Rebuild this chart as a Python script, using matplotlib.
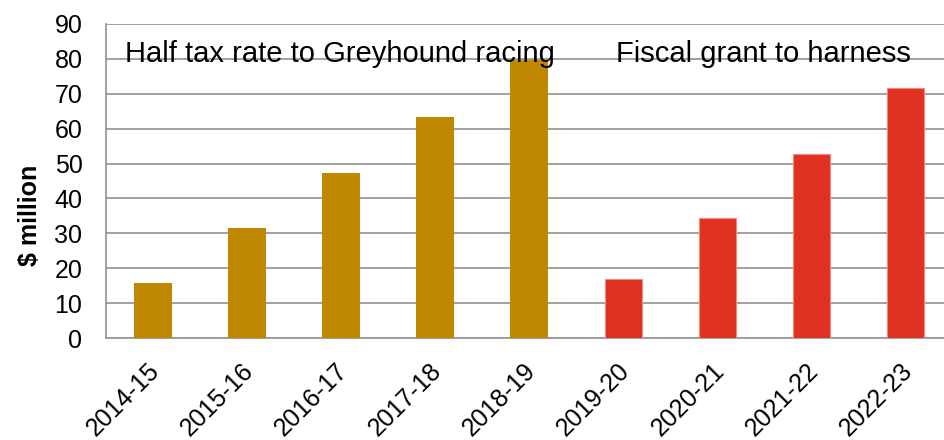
import matplotlib
matplotlib.use('Agg')
from matplotlib import pyplot as plt
from matplotlib.transforms import ScaledTranslation

years = ['2014-15', '2015-16', '2016-17', '2017-18', '2018-19',
         '2019-20', '2020-21', '2021-22', '2022-23']
greyhound_values = [15.8, 31.5, 47.3, 63.3, 79.7]
harness_values = [16.9, 34.4, 52.7, 71.6]
group_labels = ['Half tax rate to Greyhound racing', 'Fiscal grant to harness']

GOLD = '#C08800'
RED = '#E03220'


def main():
    plt.rcParams['font.family'] = ['Liberation Sans', 'DejaVu Sans']

    fig = plt.figure(figsize=(9.45, 4.4), dpi=100)
    ax = fig.add_axes([0.1122, 0.2318, 0.8878, 0.7137])

    n_grey = len(greyhound_values)
    ax.bar(range(n_grey), greyhound_values, width=0.4, color=GOLD, zorder=3)
    ax.bar(range(n_grey, n_grey + len(harness_values)), harness_values, width=0.4,
           color=RED, edgecolor='#F08a80', linewidth=0.8, zorder=3)

    # GRID AND AXES. #
    ax.set_ylim(0, 90)
    ax.set_xlim(-0.5, 8.42)
    ax.set_yticks(range(0, 91, 10))
    ax.yaxis.grid(True, color='#9a9a9a', linewidth=1.3, zorder=0)
    ax.set_axisbelow(True)
    for side in ('top', 'right'):
        ax.spines[side].set_visible(False)
    for side in ('left', 'bottom'):
        ax.spines[side].set_color('#9a9a9a')
        ax.spines[side].set_linewidth(1.3)
    ax.tick_params(axis='y', length=0, pad=17, labelsize=18)
    ax.tick_params(axis='x', length=0, pad=15, labelsize=18)

    ax.set_xticks(range(len(years)))
    ax.set_xticklabels(years, rotation=45, ha='right', va='top', rotation_mode='anchor')
    shift = ScaledTranslation(-4 / 72, 0, fig.dpi_scale_trans)
    for label in ax.get_xticklabels():
        label.set_transform(label.get_transform() + shift)

    ax.set_ylabel('$ million', fontsize=18, fontweight='bold')
    ax.yaxis.set_label_coords(-0.076, 0.39)

    # GROUP LABELS. #
    ax.text(-0.30, 79, group_labels[0], fontsize=21, va='baseline', ha='left')
    ax.text(4.92, 79, group_labels[1], fontsize=21, va='baseline', ha='left')

    fig.savefig('out.png', dpi=100)


if __name__ == '__main__':
    main()
